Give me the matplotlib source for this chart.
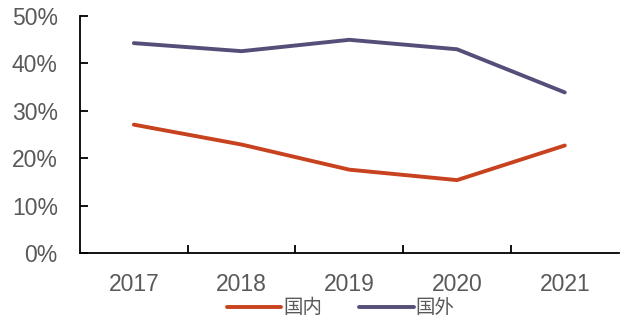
import matplotlib.pyplot as plt
from matplotlib.ticker import PercentFormatter, FixedLocator

years = ['2017', '2018', '2019', '2020', '2021']
domestic = [27.1, 22.9, 17.6, 15.4, 22.7]
foreign = [44.3, 42.6, 45.0, 43.0, 33.9]

plt.rcParams['font.family'] = ['Liberation Sans', 'Noto Sans CJK SC', 'DejaVu Sans']

fig = plt.figure(figsize=(6.22, 3.22), dpi=100)
ax = fig.add_axes([0.1286, 0.214, 0.866, 0.736])

x = range(len(years))
ax.plot(x, domestic, color='#C8421F', lw=2.8, solid_capstyle='round', label='国内')
ax.plot(x, foreign, color='#544F78', lw=2.8, solid_capstyle='round', label='国外')

ax.set_xlim(-0.5, len(years) - 0.5)
ax.set_ylim(0, 50)
ax.set_yticks([0, 10, 20, 30, 40, 50])
ax.yaxis.set_major_formatter(PercentFormatter(decimals=0))
ax.set_xticks(list(x))
ax.set_xticklabels(years)
ax.xaxis.set_minor_locator(FixedLocator([0.5, 1.5, 2.5, 3.5]))

for s in ['top', 'right']:
    ax.spines[s].set_visible(False)
for s in ['left', 'bottom']:
    ax.spines[s].set_linewidth(1.3)
    ax.spines[s].set_color('black')

ax.tick_params(axis='y', direction='in', length=6, width=1.3, pad=16,
               labelsize=16.5, labelcolor='#595959')
ax.tick_params(axis='x', which='major', length=0, pad=14,
               labelsize=16.5, labelcolor='#595959')
ax.tick_params(axis='x', which='minor', direction='in', length=6, width=1.3)

fig.legend(loc='lower center', bbox_to_anchor=(0.548, -0.04), ncol=2, frameon=False,
           fontsize=14, labelcolor='#595959', handlelength=2.8, handletextpad=0.1,
           columnspacing=1.9)

fig.savefig('out.png', dpi=100)
